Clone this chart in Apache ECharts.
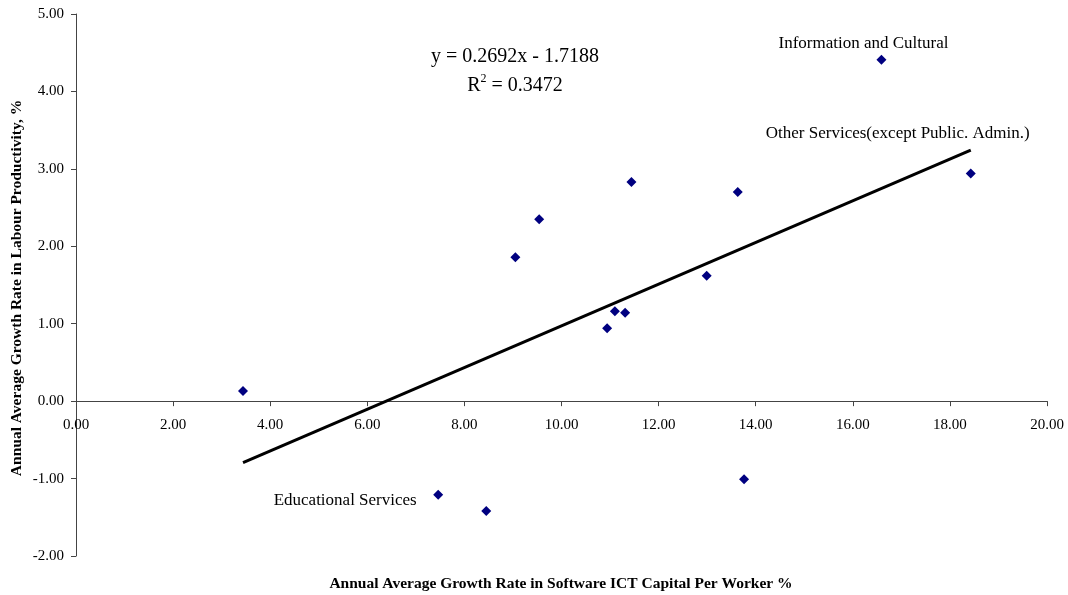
<!DOCTYPE html>
<html>
<head>
<meta charset="utf-8">
<script src="https://cdn.jsdelivr.net/npm/echarts@6/dist/echarts.min.js"></script>
<style>
  html, body { margin: 0; padding: 0; background: #fff; }
  #chart { width: 1068px; height: 595px; }
</style>
</head>
<body>
<div id="chart"></div>
<script>
// Software ICT capital growth per worker (%) vs. labour productivity growth (%) by industry
const softwareGrowth = [3.44, 7.46, 8.45, 9.05, 9.54, 10.94, 11.10, 11.31, 11.44, 12.99, 13.63, 13.76, 16.59, 18.43];
const productivityGrowth = [0.13, -1.21, -1.42, 1.86, 2.35, 0.94, 1.16, 1.14, 2.83, 1.62, 2.70, -1.01, 4.41, 2.94];
const pointNames = ['', 'Educational Services', '', '', '', '', '', '', '', '', '', '', 'Information and Cultural', 'Other Services(except Public. Admin.)'];

// Linear trend reported on the chart
const trendSlope = 0.2692;
const trendIntercept = -1.7188;
const trendR2 = 0.3472;

const xTicks = { min: 0, max: 20, step: 2 };
const yTicks = { min: -2, max: 5, step: 1 };

const FONT = '"Liberation Serif", "Times New Roman", serif';

const GRID = { left: 76, right: 21, top: 14, bottom: 39 };
const CHART_H = 595;

// Label placement per named industry
const labelOffsets = {
  'Educational Services': [-93, 6],
  'Information and Cultural': [-18, -16],
  'Other Services(except Public. Admin.)': [-73, -40]
};

const scatterData = softwareGrowth.map((x, i) => {
  const item = { value: [x, productivityGrowth[i]] };
  const name = pointNames[i];
  if (name) {
    item.name = name;
    item.label = {
      show: true,
      formatter: name,
      position: 'inside',
      offset: labelOffsets[name],
      color: '#000',
      opacity: 1,
      textBorderWidth: 0,
      fontFamily: FONT,
      fontSize: 17
    };
  }
  return item;
});

const xMinData = Math.min(...softwareGrowth);
const xMaxData = Math.max(...softwareGrowth);
const trendData = [
  [xMinData, trendSlope * xMinData + trendIntercept],
  [xMaxData, trendSlope * xMaxData + trendIntercept]
];

// The horizontal axis sits on y = 0: lift it from the grid bottom by the zero line's height
const plotH = CHART_H - GRID.top - GRID.bottom;
const zeroLift = (0 - yTicks.min) / (yTicks.max - yTicks.min) * plotH;

const chart = echarts.init(document.getElementById('chart'), null, { renderer: 'canvas' });

chart.setOption({
  animation: false,
  backgroundColor: '#fff',
  grid: GRID,
  xAxis: {
    type: 'value',
    min: xTicks.min,
    max: xTicks.max,
    interval: xTicks.step,
    offset: -zeroLift,
    axisLine: { onZero: false, lineStyle: { color: '#444', width: 1 } },
    axisTick: { show: true, length: 5, lineStyle: { color: '#444' } },
    axisLabel: {
      margin: 16,
      color: '#000',
      fontFamily: FONT,
      fontSize: 15,
      formatter: v => v.toFixed(2)
    },
    splitLine: { show: false }
  },
  yAxis: {
    type: 'value',
    min: yTicks.min,
    max: yTicks.max,
    interval: yTicks.step,
    axisLine: { show: true, onZero: false, lineStyle: { color: '#444', width: 1 } },
    axisTick: { show: true, length: 5, lineStyle: { color: '#444' } },
    axisLabel: {
      margin: 12,
      color: '#000',
      fontFamily: FONT,
      fontSize: 15,
      formatter: v => v.toFixed(2)
    },
    splitLine: { show: false }
  },
  graphic: [
    {
      type: 'text',
      x: 561,
      y: 584,
      style: {
        text: 'Annual Average Growth Rate in Software ICT Capital Per Worker %',
        fill: '#000',
        font: 'bold 15.5px ' + FONT,
        align: 'center',
        verticalAlign: 'middle'
      }
    },
    {
      type: 'text',
      x: 17,
      y: 288,
      rotation: Math.PI / 2,
      style: {
        text: 'Annual Average Growth Rate in Labour Productivity, %',
        fill: '#000',
        font: 'bold 15.5px ' + FONT,
        align: 'center',
        verticalAlign: 'middle'
      }
    },
    {
      type: 'text',
      x: 515,
      y: 57,
      style: {
        text: 'y = ' + trendSlope.toFixed(4) + 'x - ' + Math.abs(trendIntercept).toFixed(4),
        fill: '#000',
        font: '20px ' + FONT,
        align: 'center',
        verticalAlign: 'middle'
      }
    },
    {
      type: 'text',
      x: 515,
      y: 86,
      style: {
        text: '{r|R}{sup|2}{r| = ' + trendR2.toFixed(4) + '}',
        align: 'center',
        verticalAlign: 'middle',
        rich: {
          r: { fontFamily: FONT, fontSize: 20, fill: '#000', color: '#000' },
          sup: { fontFamily: FONT, fontSize: 12, fill: '#000', color: '#000', verticalAlign: 'top', padding: [0, 0, 14, 0] }
        }
      }
    }
  ],
  series: [
    {
      type: 'line',
      data: trendData,
      symbol: 'none',
      lineStyle: { color: '#000', width: 3 },
      silent: true,
      z: 2
    },
    {
      type: 'scatter',
      data: scatterData,
      symbol: 'diamond',
      symbolSize: 10,
      itemStyle: { color: '#000080', opacity: 1 },
      z: 3
    }
  ]
});
</script>
</body>
</html>
